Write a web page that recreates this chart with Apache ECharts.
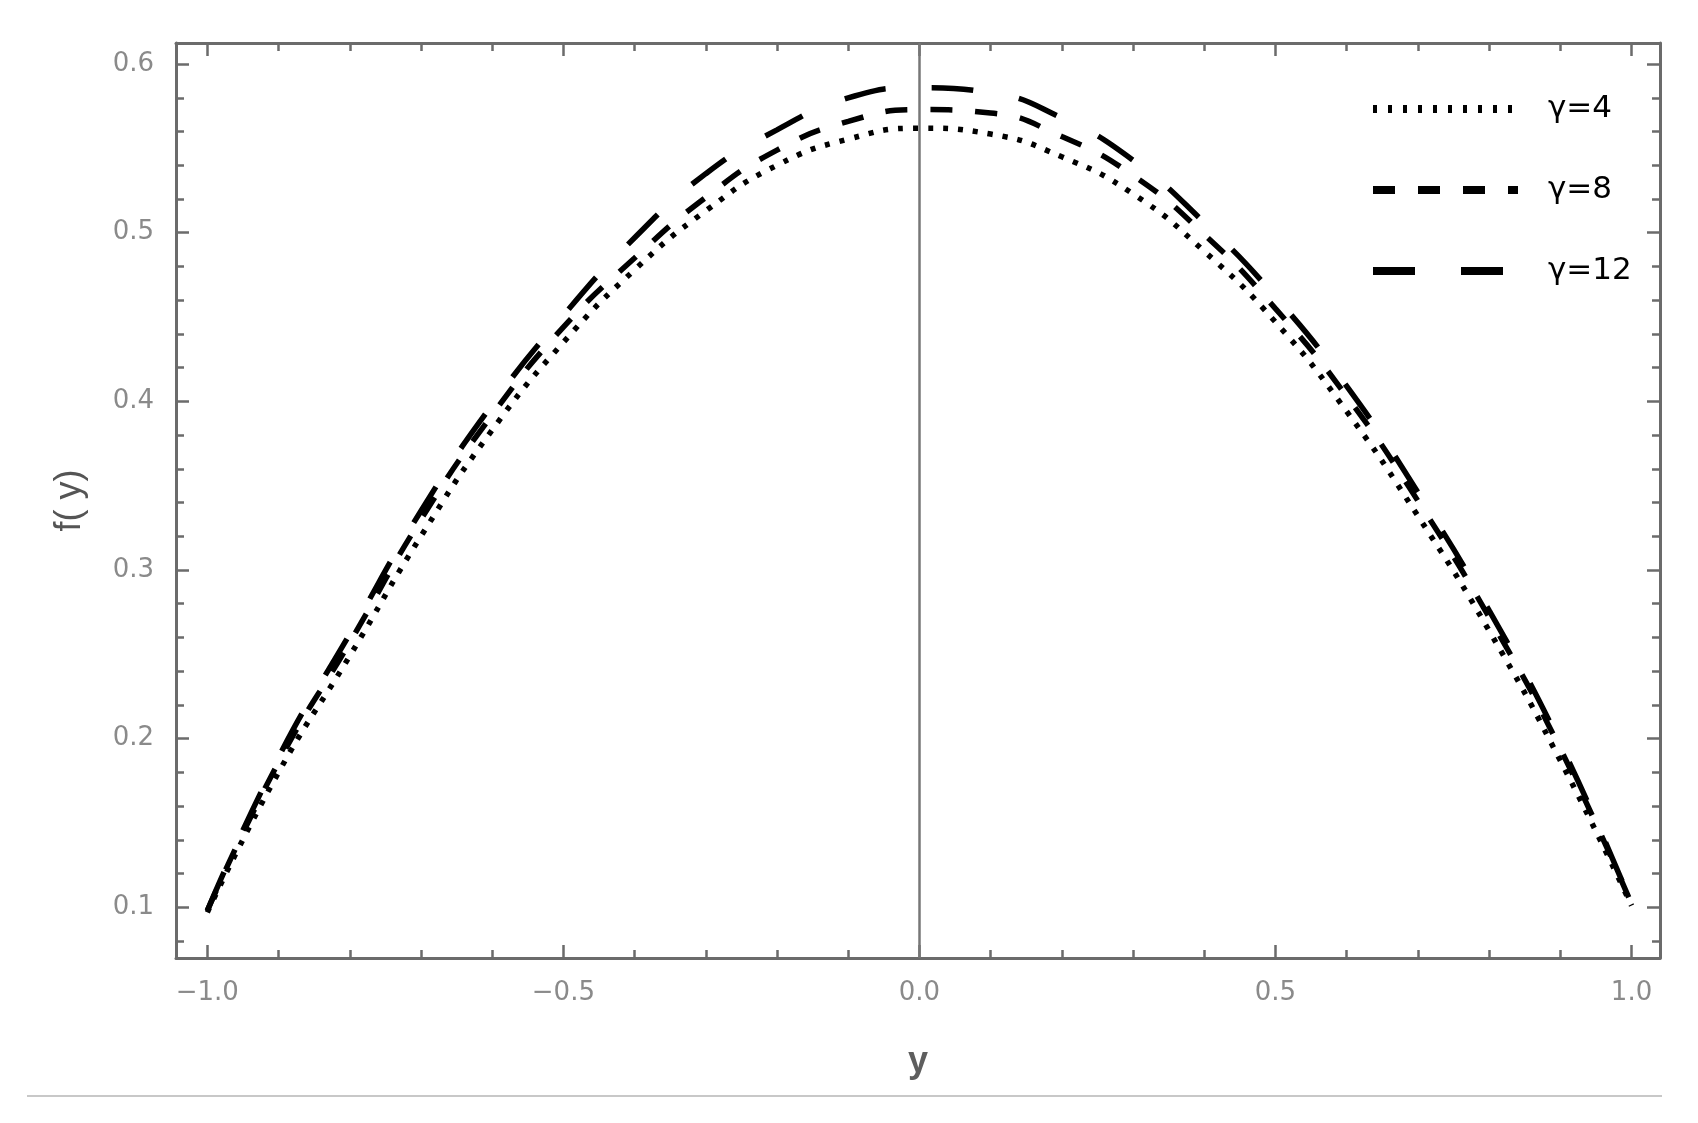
<!DOCTYPE html>
<html><head><meta charset="utf-8">
<script src="https://cdn.jsdelivr.net/npm/echarts@6/dist/echarts.min.js"></script>
<style>html,body{margin:0;padding:0;background:#fff}#c{width:1698px;height:1123px}</style>
</head><body><div id="c"></div>
<script>
// ---- data ----
const yValues = [-1.0, -0.9, -0.8, -0.7, -0.6, -0.5, -0.4, -0.3, -0.2, -0.1, 0.0, 0.1, 0.2, 0.3, 0.4, 0.5, 0.6, 0.7, 0.8, 0.9, 1.0];
const gamma4  = [0.097, 0.180, 0.249, 0.320, 0.383, 0.435, 0.478, 0.513, 0.540, 0.5555, 0.562, 0.5585, 0.545, 0.523, 0.489, 0.447, 0.394, 0.332, 0.264, 0.187, 0.101];
const gamma8  = [0.098, 0.186, 0.257, 0.330, 0.392, 0.444, 0.485, 0.521, 0.549, 0.566, 0.573, 0.571, 0.557, 0.534, 0.499, 0.455, 0.403, 0.341, 0.272, 0.194, 0.102];
const gamma12 = [0.098, 0.189, 0.262, 0.335, 0.398, 0.451, 0.497, 0.535, 0.561, 0.580, 0.586, 0.583, 0.568, 0.543, 0.506, 0.462, 0.409, 0.346, 0.276, 0.197, 0.102];
const seriesNames = ['γ=4', 'γ=8', 'γ=12'];
const xMajorTicks = [-1.0, -0.5, 0.0, 0.5, 1.0];
const xMinorTicks = [-0.9, -0.8, -0.7, -0.6, -0.4, -0.3, -0.2, -0.1, 0.1, 0.2, 0.3, 0.4, 0.6, 0.7, 0.8, 0.9];
const yMajorTicks = [0.1, 0.2, 0.3, 0.4, 0.5, 0.6];
const yMinorTicks = [0.08, 0.12, 0.14, 0.16, 0.18, 0.22, 0.24, 0.26, 0.28, 0.32, 0.34, 0.36, 0.38, 0.42, 0.44, 0.46, 0.48, 0.52, 0.54, 0.56, 0.58];
const xRange = [-1.044, 1.04];
const yRange = [0.0699, 0.6125];

// ---- chart ----
const chart = echarts.init(document.getElementById('c'), null, {renderer: 'canvas'});
const frameColor = '#6b6b6b';
const labelStyle = {color: '#8a8a8a', fontFamily: 'DejaVu Sans', fontSize: 26};
const fmtX = v => (v < 0 ? '\u2212' : '') + Math.abs(v).toFixed(1);
const fmtY = v => v.toFixed(1);
const dashTypes = [[5, 10], [22, 23], [42, 46]];
const legendDash = [[4, 11], [22, 23], [42, 46]];

function xAxisDef(position, ticks, len, showLine, showLabel, extra) {
  return Object.assign({
    type: 'value', position: position, min: xRange[0], max: xRange[1],
    axisLine: {show: showLine, onZero: false, lineStyle: {color: frameColor, width: 3}},
    axisTick: {show: true, inside: true, length: len, customValues: ticks, lineStyle: {color: frameColor, width: 2.5}},
    axisLabel: showLabel ? Object.assign({show: true, customValues: ticks, formatter: fmtX, margin: 22}, labelStyle) : {show: false},
    splitLine: {show: false}, minorTick: {show: false}
  }, extra || {});
}
function yAxisDef(position, ticks, len, showLine, showLabel, extra) {
  return Object.assign({
    type: 'value', position: position, min: yRange[0], max: yRange[1],
    axisLine: {show: showLine, onZero: false, lineStyle: {color: frameColor, width: 3}},
    axisTick: {show: true, inside: true, length: len, customValues: ticks, lineStyle: {color: frameColor, width: 2.5}},
    axisLabel: showLabel ? Object.assign({show: true, customValues: ticks, formatter: fmtY, margin: 22}, labelStyle) : {show: false},
    splitLine: {show: false}, minorTick: {show: false}
  }, extra || {});
}

const toPairs = arr => yValues.map((x, i) => [x, arr[i]]);
const allData = [gamma4, gamma8, gamma12];

chart.setOption({
  animation: false,
  backgroundColor: '#ffffff',
  grid: {left: 176, right: 38, top: 43, bottom: 165, containLabel: false},
  xAxis: [
    xAxisDef('bottom', xMajorTicks, 13, true, true, {
      name: 'y', nameLocation: 'middle', nameGap: 86,
      nameTextStyle: {color: '#5e5e5e', fontFamily: 'Liberation Sans', fontSize: 36, fontWeight: 'bold'}
    }),
    xAxisDef('bottom', xMinorTicks, 8, false, false),
    xAxisDef('top', xMajorTicks, 13, true, false),
    xAxisDef('top', xMinorTicks, 8, false, false)
  ],
  yAxis: [
    yAxisDef('left', yMajorTicks, 13, true, true, {
      name: 'f( y)', nameLocation: 'middle', nameGap: 88,
      nameTextStyle: {color: '#555', fontFamily: 'Liberation Sans', fontSize: 36}
    }),
    yAxisDef('left', yMinorTicks, 8, false, false),
    yAxisDef('right', yMajorTicks, 13, true, false),
    yAxisDef('right', yMinorTicks, 8, false, false)
  ],
  legend: {
    orient: 'vertical', left: 1364, top: 84,
    itemWidth: 145, itemHeight: 14, itemGap: 41,
    itemStyle: {opacity: 0},
    data: seriesNames.map((n, i) => ({
      name: n,
      itemStyle: {opacity: 0},
      lineStyle: {color: '#000', width: 8, type: legendDash[i], cap: 'butt', opacity: 1}
    })),
    textStyle: {color: '#000', fontFamily: 'DejaVu Sans', fontSize: 31, lineHeight: 40, padding: [0, 0, 0, 25]}
  },
  series: seriesNames.map((n, i) => {
    const s = {
      name: n, type: 'line', data: toPairs(allData[i]), smooth: true, symbol: 'none',
      lineStyle: {color: '#000', width: 5.5, type: dashTypes[i], cap: 'butt'},
      itemStyle: {color: '#000'}, z: 3
    };
    if (i === 0) {
      s.markLine = {
        silent: true, symbol: 'none', label: {show: false},
        lineStyle: {color: '#777', width: 2.5, type: 'solid'},
        data: [{xAxis: 0}]
      };
    }
    return s;
  }),
  graphic: [
    {type: 'line', shape: {x1: 27, y1: 1096, x2: 1662, y2: 1096}, style: {stroke: '#c8c8c8', lineWidth: 2}, silent: true}
  ]
});
</script>
</body></html>
